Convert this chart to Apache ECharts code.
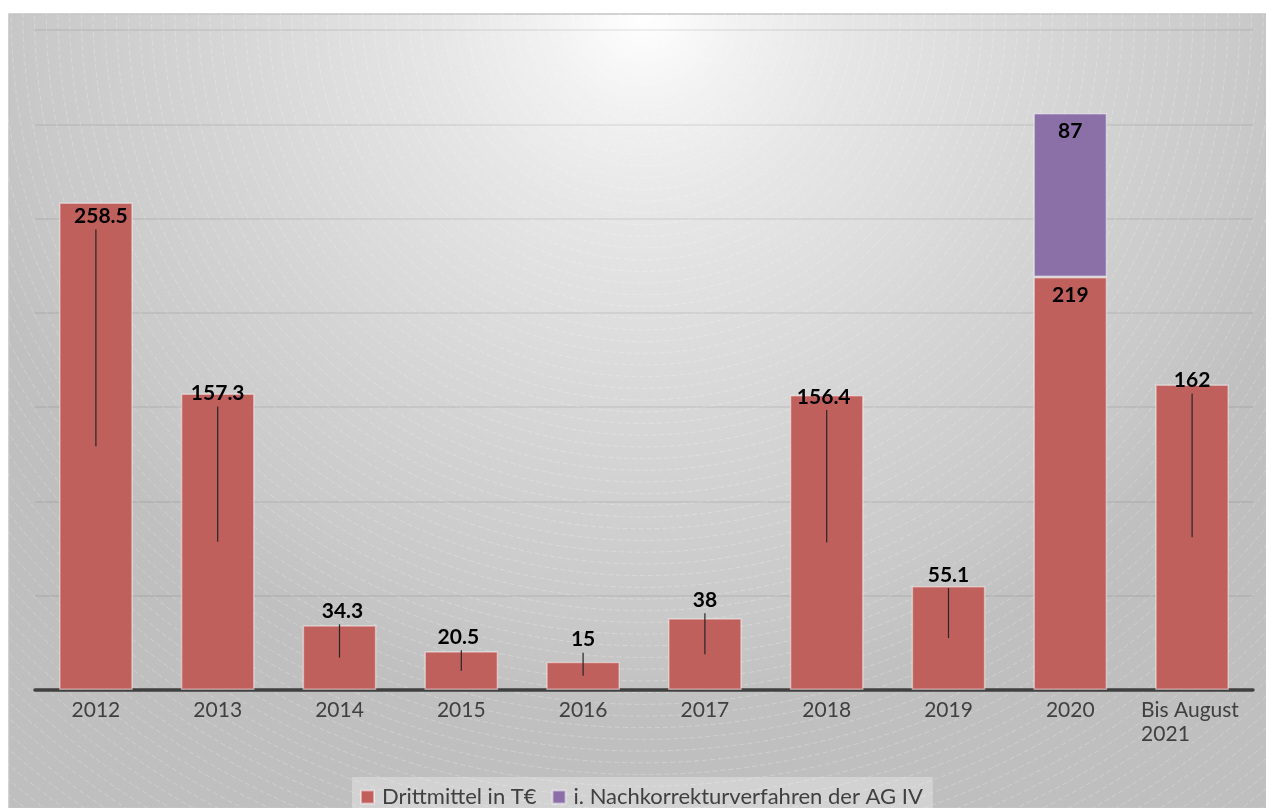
<!DOCTYPE html>
<html>
<head>
<meta charset="utf-8">
<script src="https://cdn.jsdelivr.net/npm/echarts@6/dist/echarts.min.js"></script>
<style>
  html, body { margin: 0; padding: 0; background: #ffffff; }
  #chart { width: 1266px; height: 808px; }
</style>
</head>
<body>
<div id="chart"></div>
<script>
// Third-party funding per year (thousand euro)
const categories = ['2012', '2013', '2014', '2015', '2016', '2017', '2018', '2019', '2020', 'Bis August\n2021'];
const drittmittel = [258.5, 157.3, 34.3, 20.5, 15, 38, 156.4, 55.1, 219, 162];
const nachkorrektur = [null, null, null, null, null, null, null, null, 87, null];
const seriesNames = ['Drittmittel in T€', 'i. Nachkorrekturverfahren der AG IV'];

// Label placement relative to the bar top (pixels) and leader-line flags
const labelDy = [14, 0, -14, -14, -22, -18, 2, -11, 18, -4];
const labelDx = [5, 0, 3, -3, 0, 0, -3, 0, 0, 0];
const hasLeader = [true, true, true, true, true, true, true, true, false, true];
const stackLabelDy = 18;

const FONT = 'Lato, "Open Sans", sans-serif';
const RED = '#c0605d';
const PURPLE = '#8b70a8';

const chart = echarts.init(document.getElementById('chart'), null, { renderer: 'canvas' });

// Background panel: radial light spot with concentric dashed rings
const CX = 643, CY = 14;
const bgElements = [{
  type: 'rect',
  z: -100,
  shape: { x: 9, y: 14, width: 1257, height: 794 },
  style: {
    fill: {
      type: 'radial', x: CX, y: CY, r: 760, global: true,
      colorStops: [
        { offset: 0, color: '#ffffff' },
        { offset: 0.13, color: '#f1f1f1' },
        { offset: 0.27, color: '#e6e6e6' },
        { offset: 0.58, color: '#d4d4d4' },
        { offset: 0.8, color: '#c9c9c9' },
        { offset: 0.92, color: '#c0c0c0' },
        { offset: 1, color: '#bfbfbf' }
      ]
    },
    stroke: '#c4c4c4',
    lineWidth: 1.5
  }
}];
for (let r = 11.7; r < 1030; r += 11.7) {
  bgElements.push({
    type: 'circle',
    z: -99,
    silent: true,
    shape: { cx: CX, cy: CY, r: r },
    style: { fill: null, stroke: 'rgba(255,255,255,0.3)', lineWidth: 0.8, lineDash: [5, 3] }
  });
}

function labelItem(i, value, base, dy, leader, api) {
  const top = api.coord([i, base + value]);
  const mid = api.coord([i, base + value / 2]);
  const ty = top[1] + dy;
  const children = [{
    type: 'text',
    x: top[0] + labelDx[i],
    y: ty,
    style: {
      text: String(value),
      font: 'bold 21px ' + FONT,
      fill: '#000000',
      align: 'center',
      verticalAlign: 'middle'
    }
  }];
  if (leader) {
    children.push({
      type: 'line',
      shape: { x1: mid[0], y1: mid[1], x2: mid[0], y2: ty + 13 },
      style: { stroke: '#262626', lineWidth: 1.2 }
    });
  }
  return { type: 'group', children: children };
}

const option = {
  animation: false,
  graphic: { elements: bgElements },
  grid: { left: 35, right: 13, top: 30, bottom: 118 },
  legend: {
    data: seriesNames,
    left: 352,
    top: 777,
    padding: [9, 10, 9, 8],
    backgroundColor: 'rgba(255,255,255,0.3)',
    itemWidth: 13,
    itemHeight: 13,
    itemGap: 15,
    icon: 'rect',
    selectedMode: false,
    textStyle: { fontFamily: FONT, fontSize: 22, color: '#404040', lineHeight: 20, padding: [0, 0, 0, 3] }
  },
  xAxis: {
    type: 'category',
    data: categories,
    axisTick: { show: false },
    axisLine: { lineStyle: { color: '#404040', width: 3.5 } },
    axisLabel: {
      interval: 0,
      margin: 8,
      fontFamily: FONT,
      fontSize: 21,
      lineHeight: 24,
      color: '#404040',
      formatter: function (v) {
        return v.indexOf('\n') >= 0 ? v.split('\n').map(s => '{w|' + s + '}').join('\n') : v;
      },
      rich: { w: { width: 102, align: 'left', fontFamily: FONT, fontSize: 21, lineHeight: 24, color: '#404040' } }
    }
  },
  yAxis: {
    type: 'value',
    min: 0,
    max: 350,
    interval: 50,
    axisLabel: { show: false },
    axisLine: { show: false },
    axisTick: { show: false },
    splitLine: { lineStyle: { color: 'rgba(0,0,0,0.06)', width: 2 } }
  },
  series: [
    {
      name: seriesNames[0],
      type: 'bar',
      stack: 'total',
      data: drittmittel,
      barWidth: '60.5%',
      itemStyle: { color: RED, borderColor: 'rgba(255,255,255,0.45)', borderWidth: 1.5 }
    },
    {
      name: seriesNames[1],
      type: 'bar',
      stack: 'total',
      data: nachkorrektur,
      barWidth: '60.5%',
      itemStyle: { color: PURPLE, borderColor: 'rgba(255,255,255,0.45)', borderWidth: 1.5 }
    },
    {
      type: 'custom',
      z: 5,
      silent: true,
      data: drittmittel.map((v, i) => [i, v]),
      encode: { x: 0, y: 1 },
      renderItem: function (params, api) {
        const i = api.value(0);
        return labelItem(i, api.value(1), 0, labelDy[i], hasLeader[i], api);
      }
    },
    {
      type: 'custom',
      z: 5,
      silent: true,
      data: nachkorrektur.map((v, i) => [i, v, drittmittel[i]]).filter(d => d[1] != null),
      encode: { x: 0, y: 1 },
      renderItem: function (params, api) {
        const i = api.value(0);
        return labelItem(i, api.value(1), api.value(2), stackLabelDy, false, api);
      }
    }
  ]
};

chart.setOption(option);
</script>
</body>
</html>
